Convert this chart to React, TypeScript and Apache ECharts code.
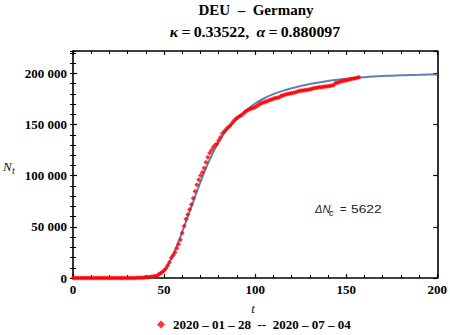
import React, { useEffect, useRef } from "react";
import * as echarts from "echarts";

// Observed cumulative cases, one value per day t = 0, 1, 2, ...
const observed: number[] = [
  4, 4, 4, 4, 4, 5, 8, 10, 12, 12, 12, 12, 13, 13, 14, 14, 16, 16, 16, 16,
  16, 16, 16, 16, 16, 16, 16, 16, 16, 16, 17, 27, 46, 48, 79, 130, 159, 196, 262, 482,
  670, 799, 1040, 1176, 1457, 1908, 2078, 3675, 4585, 5795, 7272, 9257, 12327, 15320, 19848, 22213, 24873, 29056, 32986, 37323,
  43938, 50871, 57695, 62095, 66885, 71808, 77872, 84794, 91159, 96092, 100123, 103374, 107663, 113296, 118181, 122171, 124908, 127854, 130072, 131359,
  134753, 137698, 141397, 143342, 145184, 147065, 148291, 150648, 153129, 154999, 156513, 157770, 158758, 159912, 161539, 163009, 164077, 164967, 165664, 166152,
  167007, 168162, 169430, 170588, 171324, 171879, 172576, 173171, 174098, 174478, 175233, 175752, 176369, 176551, 177778, 178473, 179021, 179710, 179986, 180328,
  180600, 181200, 181524, 182196, 182922, 183189, 183410, 183594, 183879, 184121, 184472, 184924, 185450, 185750, 186109, 186506, 186522, 186691, 187226, 187267,
  187518, 187682, 188252, 188604, 190359, 190862, 191449, 192079, 192556, 193243, 193499, 193761, 194259, 194725, 195042, 195418, 195893, 196324,
];

// Model curve, every 5 units of t
const modelT: number[] = [0, 5, 10, 15, 20, 25, 30, 35, 40, 45, 50, 55, 60, 65, 70, 75, 80, 85, 90, 95, 100, 105, 110, 115, 120, 125, 130, 135, 140, 145, 150, 155, 160, 165, 170, 175, 180, 185, 190, 195, 200];
const modelN: number[] = [0, 0, 0, 0, 0, 0, 0, 10, 120, 1000, 7000, 23000, 45300, 69500, 94000, 115600, 133000, 146300, 155800, 163900, 170600, 175800, 179800, 183000, 185600, 187800, 189700, 191300, 192700, 193900, 194900, 195700, 196400, 197000, 197500, 197900, 198200, 198500, 198700, 198900, 199000];

const xTicks = { min: 0, max: 200, interval: 50 };
const yRange = { min: 0, max: 222000, major: 50000, minor: 10000 };

const seriesName = "2020 – 01 – 28  --  2020 – 07 – 04";
const titleLine1 = "DEU  –  Germany";
const kappa = "0.33522";
const alpha = "0.880097";
const deltaNc = "5622";

const SERIF = "'Liberation Serif', 'Times New Roman', serif";
const SANS = "'Liberation Sans', Arial, sans-serif";

export default function App() {
  const ref = useRef<HTMLDivElement>(null);
  useEffect(() => {
    if (!ref.current) return;
    const chart = echarts.init(ref.current, undefined, { renderer: "svg" });
    const fmt = (v: number) => {
      if (v % yRange.major !== 0) return "";
      if (v === 0) return "0";
      return String(v / 1000) + " 000";
    };
    const tickLabel = { fontFamily: SERIF, fontWeight: "bold" as const, fontSize: 13, color: "#000" };
    const lineStyle = { color: "#000", width: 1.6 };
    const xBase = (pos: "bottom" | "top", labels: boolean) => ({
      type: "value",
      position: pos,
      min: xTicks.min,
      max: xTicks.max,
      interval: xTicks.interval,
      axisLine: { show: true, onZero: false, lineStyle },
      axisTick: { show: true, inside: true, length: 4, lineStyle: { color: "#000", width: 1.2 } },
      minorTick: { show: true, splitNumber: 5, length: 3, lineStyle: { color: "#000", width: 1 } },
      axisLabel: labels ? { show: true, margin: 5, ...tickLabel } : { show: false },
      splitLine: { show: false },
    });
    const yMajor = (pos: "left" | "right", labels: boolean) => ({
      type: "value",
      position: pos,
      min: yRange.min,
      max: yRange.max,
      interval: yRange.major,
      axisLine: { show: true, onZero: false, lineStyle },
      axisTick: { show: true, inside: true, length: 4, lineStyle: { color: "#000", width: 1.2 } },
      axisLabel: labels ? { show: true, margin: 6, formatter: fmt, showMaxLabel: false, ...tickLabel } : { show: false },
      splitLine: { show: false },
    });
    const yMinor = (pos: "left" | "right") => ({
      type: "value",
      position: pos,
      min: yRange.min,
      max: yRange.max,
      interval: yRange.minor,
      axisLine: { show: false },
      axisTick: { show: true, inside: true, length: 3, lineStyle: { color: "#000", width: 1 } },
      axisLabel: { show: false },
      splitLine: { show: false },
    });

    const obsData = observed.map((v, i) => [i, v]);
    const modelData = modelT.map((t, i) => [t, modelN[i]]);

    const option: any = {
      animation: false,
      backgroundColor: "#fff",
      grid: { left: 73, top: 51, width: 366, height: 227, containLabel: false },
      xAxis: [xBase("bottom", true), xBase("top", false)],
      yAxis: [yMajor("left", true), yMajor("right", false), yMinor("left"), yMinor("right")],
      legend: {
        data: [{ name: seriesName, icon: "diamond" }],
        left: 157,
        top: 318,
        padding: 0,
        itemWidth: 8,
        itemHeight: 8,
        itemGap: 4,
        textStyle: { fontFamily: SERIF, fontWeight: "bold", fontSize: 13, color: "#000", padding: [0, 0, 0, 3] },
      },
      series: [
        {
          name: "model",
          type: "line",
          xAxisIndex: 0,
          yAxisIndex: 0,
          data: modelData,
          smooth: 0.3,
          showSymbol: false,
          symbol: "none",
          lineStyle: { color: "#5e81b5", width: 2 },
          z: 2,
        },
        {
          name: seriesName,
          type: "scatter",
          xAxisIndex: 0,
          yAxisIndex: 0,
          data: obsData,
          symbol: "diamond",
          symbolSize: 5,
          itemStyle: { color: "#ff0000" },
          z: 3,
        },
      ],
      graphic: [
        {
          type: "text",
          x: 256,
          y: 10,
          style: {
            text: titleLine1,
            font: `bold 15px ${SERIF}`,
            fill: "#000",
            textAlign: "center",
            textVerticalAlign: "middle",
          },
        },
        {
          type: "text",
          x: 255,
          y: 32,
          scaleX: 1.06,
          style: {
            text: `{i|κ}{n|\u2009=\u20090.33522,\u2009 }{i|α}{n|\u2009=\u20090.880097}`,
            textAlign: "center",
            textVerticalAlign: "middle",
            rich: {
              i: { fontFamily: SERIF, fontWeight: "bold", fontStyle: "italic", fontSize: 15, fill: "#000" },
              n: { fontFamily: SERIF, fontWeight: "bold", fontSize: 15, fill: "#000" },
            },
          },
        },
        {
          type: "text",
          x: 3,
          y: 166,
          style: { text: "N", font: `italic 13px ${SERIF}`, fill: "#111", textVerticalAlign: "middle" },
        },
        {
          type: "text",
          x: 12,
          y: 170,
          style: { text: "t", font: `italic 10px ${SERIF}`, fill: "#111", textVerticalAlign: "middle" },
        },
        {
          type: "text",
          x: 253,
          y: 308,
          style: { text: "t", font: `italic 13px ${SERIF}`, fill: "#111", textAlign: "center", textVerticalAlign: "middle" },
        },
        {
          type: "text",
          x: 315,
          y: 209,
          style: { text: "ΔN", font: `italic 11px ${SANS}`, fill: "#222", textVerticalAlign: "middle" },
        },
        {
          type: "text",
          x: 329,
          y: 213,
          style: { text: "c", font: `italic 9px ${SANS}`, fill: "#222", textVerticalAlign: "middle" },
        },
        {
          type: "text",
          x: 340,
          y: 209,
          style: { text: "=", font: `11px ${SANS}`, fill: "#222", textVerticalAlign: "middle" },
        },
        {
          type: "text",
          x: 351,
          y: 209,
          scaleX: 1.25,
          style: { text: deltaNc, font: `11px ${SANS}`, fill: "#222", textVerticalAlign: "middle" },
        },
      ],
    };
    chart.setOption(option);
    return () => chart.dispose();
  }, []);
  return <div ref={ref} style={{ position: "absolute", left: 0, top: 0, width: 450, height: 335 }} />;
}
